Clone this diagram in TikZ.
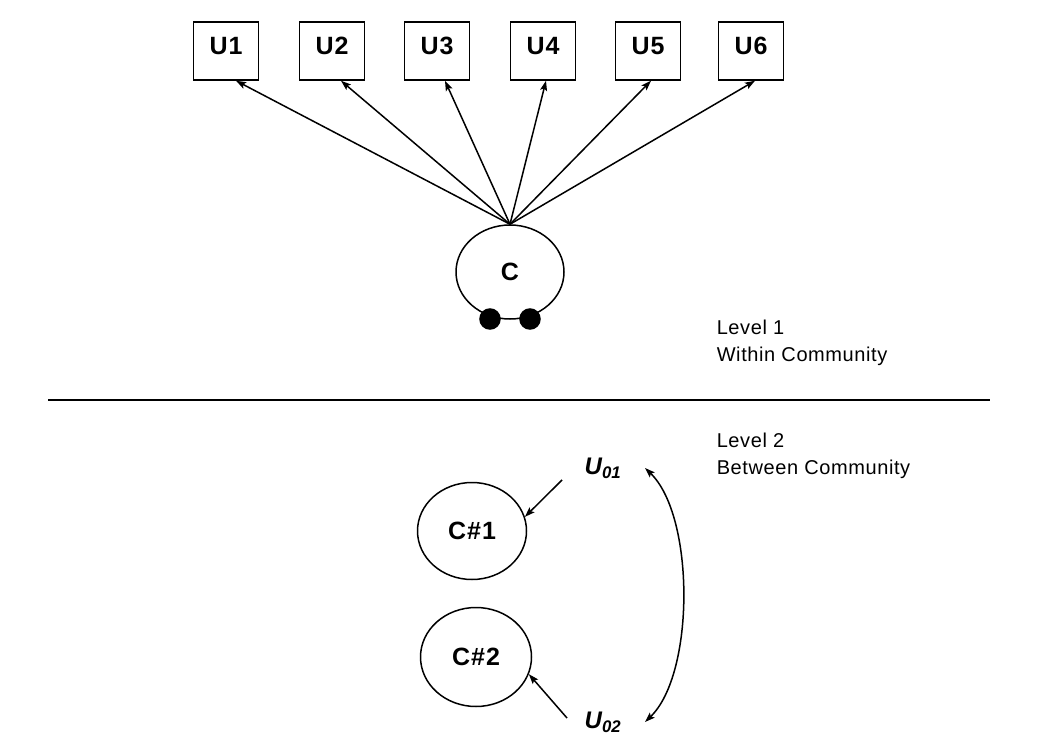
\documentclass[tikz,border=0pt]{standalone}
\usepackage{fontspec}
\setmainfont{Liberation Sans}
\newfontfamily\lvlfont[LetterSpace=3]{Liberation Sans}
\newfontfamily\lblfont[LetterSpace=4]{Liberation Sans}
\usetikzlibrary{arrows.meta,shapes.geometric,calc}
\begin{document}
\begin{tikzpicture}[x=1pt,y=-1pt,
  line width=1.5pt,
  box/.style={draw,minimum width=65pt,minimum height=58pt,inner sep=0pt,
    text depth=10pt,font=\lblfont\fontsize{25}{28}\selectfont\bfseries},
  blob/.style={draw,ellipse,inner sep=0pt,
    font=\lblfont\fontsize{25}{28}\selectfont\bfseries},
  dot/.style={circle,fill=black,draw=black,minimum size=20pt,inner sep=0pt},
  resid/.style={inner sep=1pt,font=\fontsize{24}{28}\selectfont\bfseries\itshape},
  tip/.tip={Stealth[length=10pt,width=7pt,inset=2pt]},
  arr/.style={-tip},
  dbl/.style={tip-tip},
  lvl/.style={anchor=west,align=left,inner sep=0pt,
    font=\lvlfont\fontsize{20}{27}\selectfont},
  ]
\useasboundingbox (0,0) rectangle (1046,746);

% indicators
\node[box] (u1) at (226,51) {U1};
\node[box] (u2) at (332,51) {U2};
\node[box] (u3) at (437,51) {U3};
\node[box] (u4) at (543,51) {U4};
\node[box] (u5) at (648,51) {U5};
\node[box] (u6) at (751,51) {U6};

% within-level factor
\node[blob,minimum width=108pt,minimum height=94pt] (c) at (510,272) {C};
\node[dot] (d1) at (490,319) {};
\node[dot] (d2) at (530,319) {};

\draw[arr] (c.north) -- ([xshift=10pt]u1.south);
\draw[arr] (c.north) -- ([xshift=9pt]u2.south);
\draw[arr] (c.north) -- ([xshift=8pt]u3.south);
\draw[arr] (c.north) -- ([xshift=3pt]u4.south);
\draw[arr] (c.north) -- ([xshift=3pt]u5.south);
\draw[arr] (c.north) -- ([xshift=4pt]u6.south);

% level labels and divider
\node[lvl] (l1) at (716,343) {Level 1\\Within Community};
\draw (48,400) -- (990,400);
\node[lvl] (l2) at (716,456) {Level 2\\Between Community};

% between-level part
\node[blob,minimum width=109pt,minimum height=97pt] (c1) at (472,531) {C\#1};
\node[blob,minimum width=111pt,minimum height=99pt] (c2) at (476,657) {C\#2};

\node[resid] (r1) at (603,468) {U\textsubscript{01}};
\node[resid] (r2) at (603,722) {U\textsubscript{02}};

\coordinate (a1) at (562,480);
\coordinate (a2) at (567,718);
\draw[arr] (a1) -- (c1.15);
\draw[arr] (a2) -- (c2.-18);

\draw[dbl] ([xshift=22pt]r1.east) .. controls +(50,48) and +(50,-48) .. ([xshift=22pt]r2.east);
\end{tikzpicture}
\end{document}
